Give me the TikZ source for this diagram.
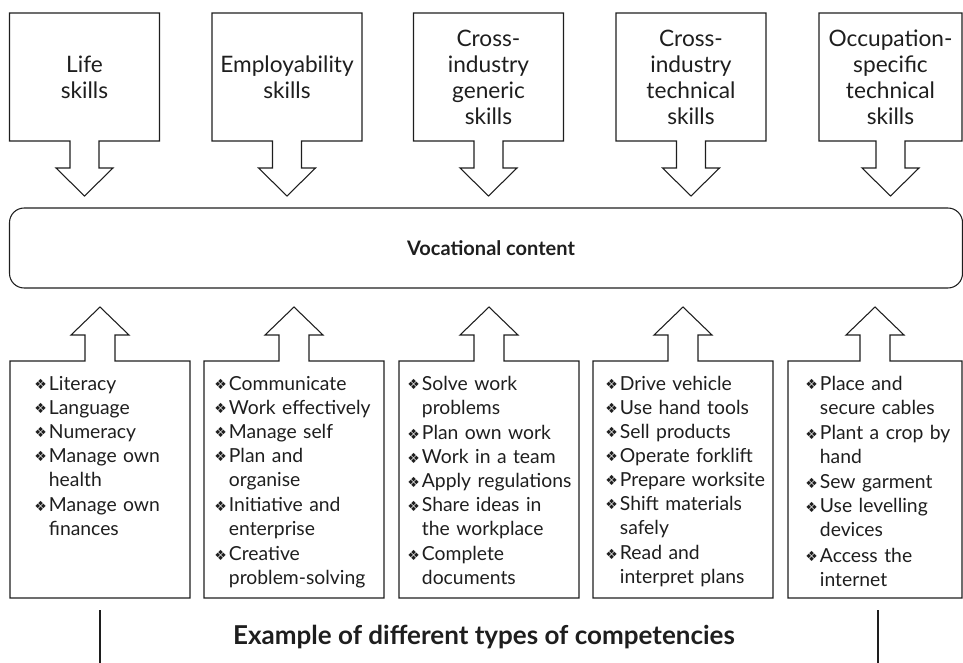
\documentclass[tikz,border=0pt]{standalone}
\usepackage{fontspec}
\setmainfont{Lato}
\newfontfamily\symfont{DejaVu Sans}
\usetikzlibrary{calc}
\definecolor{cLine}{RGB}{30,30,30}
% diamond bullet and list item (wrapped lines stay under the text)
\newcommand{\bul}{\raisebox{0.05ex}{\symfont\fontsize{10.5}{10.5}\selectfont ❖}}
\newcommand{\itm}[1]{\par\noindent\makebox[11pt][l]{\bul}\begin{tabular}[t]{@{}l@{}}#1\end{tabular}}
\tikzset{
	topbox/.style={rectangle, inner sep=0pt, outer sep=0pt, minimum width=112.5pt, minimum height=96pt, align=center, font=\fontsize{17}{19.5}\selectfont},
	botbox/.style={rectangle, inner sep=0pt, outer sep=0pt, minimum width=135pt, minimum height=177.75pt},
	lst/.style={inner sep=0pt, anchor=north west, text width=125pt, align=left, font=\fontsize{14.5}{18}\selectfont},
	voc/.style={rectangle, rounded corners=11pt, draw=cLine, line width=0.8pt, inner sep=0pt, minimum width=714.75pt, minimum height=60pt},
	capt/.style={inner sep=0pt, font=\fontsize{19.5}{23}\selectfont\bfseries},
	outl/.style={draw=cLine, line width=0.8pt, line join=miter},
}
\begin{document}
\begin{tikzpicture}[x=0.75pt, y=-0.75pt, text=cLine]
\useasboundingbox (0,0) rectangle (963,663);
% skill groups feeding in from above
\node[topbox] (t1) at (84.5,77) {Life\\skills};
\node[topbox] (t2) at (287,77) {Employability\\skills};
\node[topbox] (t3) at (488.5,77) {Cross-\\industry\\generic\\skills};
\node[topbox] (t4) at (691,77) {Cross-\\industry\\technical\\skills};
\node[topbox, minimum width=107.25pt] (t5) at (890.5,77) {Occupation-\\specific\\technical\\skills};
\foreach \i in {1,...,5}{
	\draw[outl] (t\i.south west) -- (t\i.north west) -- (t\i.north east) -- (t\i.south east)
		-- ($(t\i.south)+(14.5,0)$) -- ++(0,27) -- ++(14,0) -- ($(t\i.south)+(0,55)$)
		-- ($(t\i.south)+(-28.5,27)$) -- ++(14,0) -- ($(t\i.south)+(-14.5,0)$) -- cycle;
}

\node[voc] (voc) at (486,248) {};
\node[font=\fontsize{15}{18}\selectfont\bfseries] (voctxt) at (491,248) {Vocational content};

% example competencies, pointing up
\node[botbox] (b1) at (100,479.5) {};
\node[botbox] (b2) at (294,479.5) {};
\node[botbox] (b3) at (489,479.5) {};
\node[botbox] (b4) at (683,479.5) {};
\node[botbox, minimum width=130.5pt] (b5) at (875,479.5) {};
\foreach \i in {1,...,5}{
	\draw[outl] (b\i.north west) -- ($(b\i.north)+(-15,0)$) -- ++(0,-26) -- ++(-14,0)
		-- ($(b\i.north)+(0,-54)$) -- ($(b\i.north)+(29,-26)$) -- ++(-14,0)
		-- ($(b\i.north)+(15,0)$) -- (b\i.north east) -- (b\i.south east) -- (b\i.south west) -- cycle;
}
\node[lst] (l1) at ($(b1.north west)+(24,5)$) {\itm{Literacy}\itm{Language}\itm{Numeracy}\itm{Manage own\\health}\itm{Manage own\\finances}};
\node[lst] (l2) at ($(b2.north west)+(10,5)$) {\itm{Communicate}\itm{Work effectively}\itm{Manage self}\itm{Plan and\\organise}\itm{Initiative and\\enterprise}\itm{Creative\\problem-solving}};
\node[lst] (l3) at ($(b3.north west)+(8,5)$) {\itm{Solve work\\problems}\itm{Plan own work}\itm{Work in a team}\itm{Apply regulations}\itm{Share ideas in\\the workplace}\itm{Complete\\documents}};
\node[lst] (l4) at ($(b4.north west)+(12,5)$) {\itm{Drive vehicle}\itm{Use hand tools}\itm{Sell products}\itm{Operate forklift}\itm{Prepare worksite}\itm{Shift materials\\safely}\itm{Read and\\interpret plans}};
\node[lst] (l5) at ($(b5.north west)+(17,5)$) {\itm{Place and\\secure cables}\itm{Plant a crop by\\hand}\itm{Sew garment}\itm{Use levelling\\devices}\itm{Access the\\internet}};

\node[capt] (capt) at (484,637) {Example of different types of competencies};
\draw[outl] (100,610) -- (100,663);
\draw[outl] (878,610) -- (878,663);
\end{tikzpicture}
\end{document}
